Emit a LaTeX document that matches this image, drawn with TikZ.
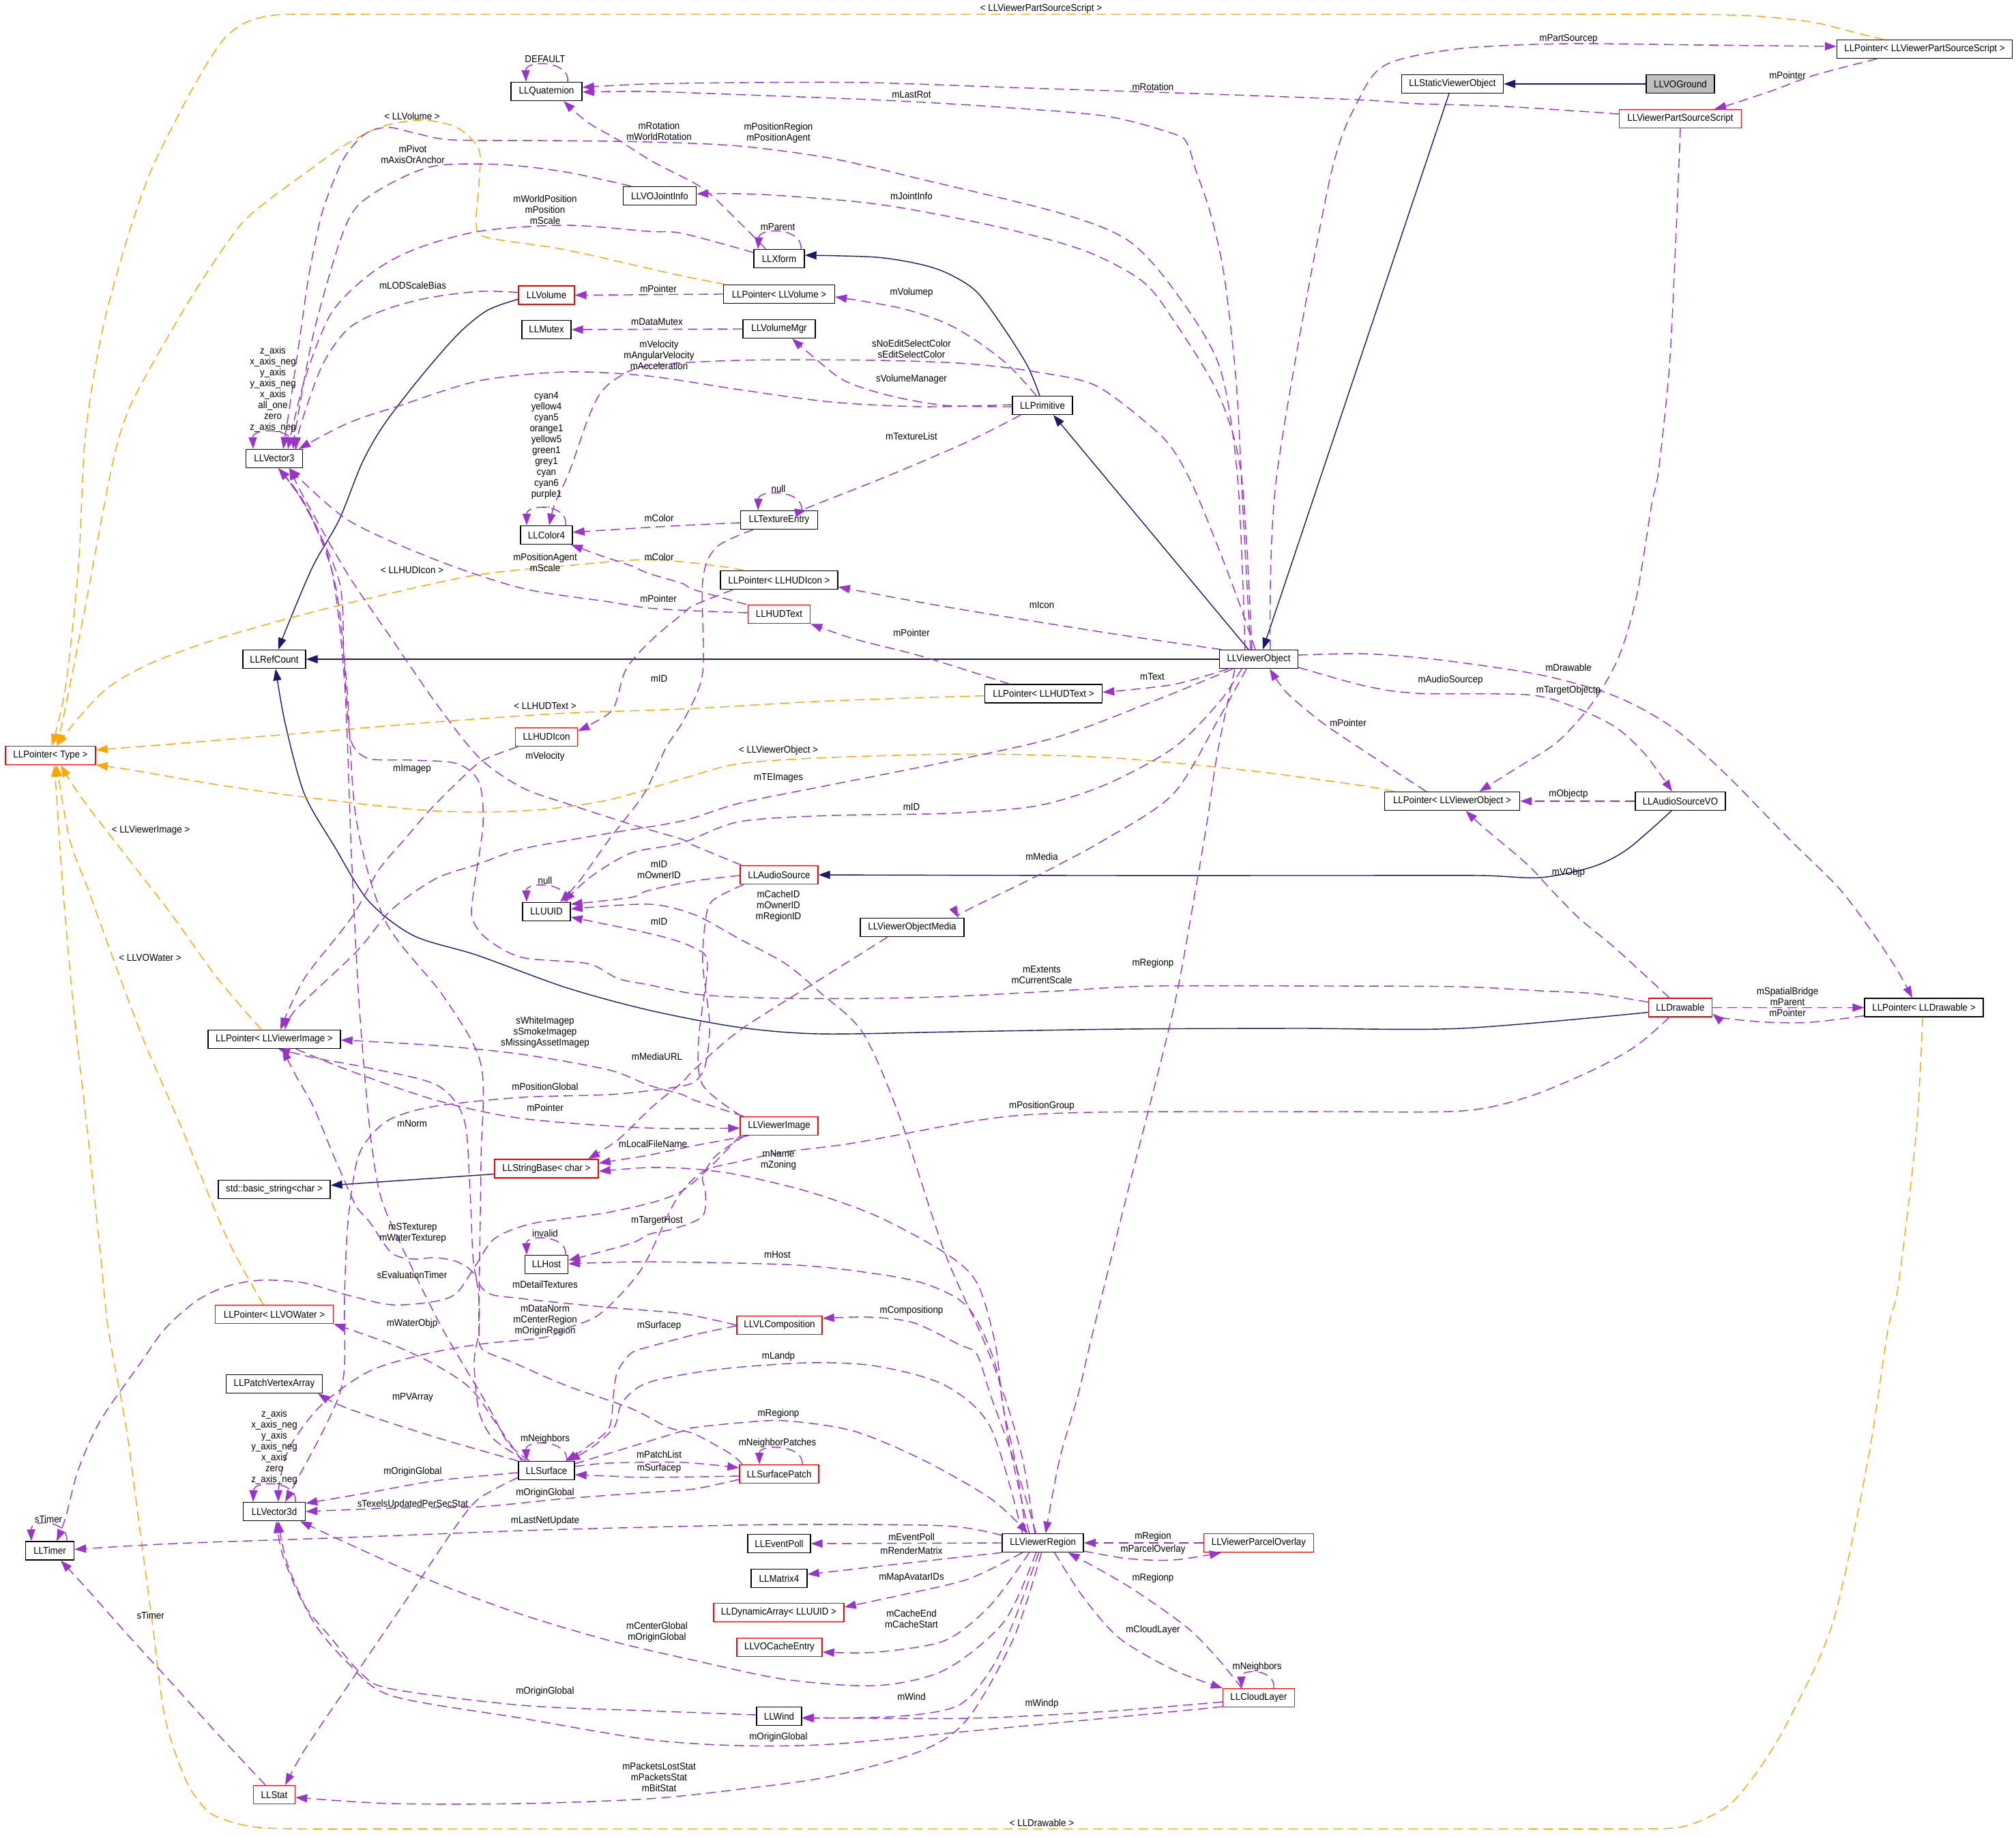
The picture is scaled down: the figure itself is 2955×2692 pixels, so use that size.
\documentclass[tikz,border=0pt]{standalone}
\usepackage{fontspec}
\setmainfont{Liberation Sans}[FakeStretch=0.92]
\usetikzlibrary{arrows.meta}
\definecolor{cpurple}{HTML}{9A32CD}
\definecolor{corange}{HTML}{FFA500}
\definecolor{cnavy}{HTML}{191970}
\definecolor{cgray}{HTML}{BFBFBF}
\newcommand\lblfont{\fontsize{14.5}{16}\selectfont}
\begin{document}
\begin{tikzpicture}[x=1pt,y=-1pt,
 cls/.style={draw=black,line width=1.4pt,minimum height=27pt,inner sep=0pt,font=\lblfont},
 redcls/.style={cls,draw=red},
 edgetext/.style={font=\lblfont,align=center,inner sep=0pt},
 eUse/.style={draw=cpurple,line width=1.4pt,dash pattern=on 14pt off 8pt,-{Triangle[length=17pt,width=12pt]}},
 eTmpl/.style={draw=corange,line width=1.4pt,dash pattern=on 14pt off 8pt,-{Triangle[length=17pt,width=12pt]}},
 eInh/.style={draw=cnavy,line width=1.4pt,-{Triangle[length=17pt,width=12pt]}},
 sm/.style={smooth,tension=0.5}]
\fill[white] (0,0) rectangle (2955,2692);
\useasboundingbox (0,0) rectangle (2955,2692);
% ---------------- nodes
\node[cls,minimum width=104pt] (quat) at (801,134) {LLQuaternion};
\node[cls,minimum width=107pt] (vojoint) at (967,287) {LLVOJointInfo};
\node[cls,minimum width=74pt] (xform) at (1142,379) {LLXform};
\node[redcls,minimum width=82pt] (volume) at (801,432.5) {LLVolume};
\node[cls,minimum width=163pt] (ptrvolume) at (1142,431) {LLPointer< LLVolume >};
\node[cls,minimum width=72pt] (mutex) at (801,483) {LLMutex};
\node[cls,minimum width=106pt] (volmgr) at (1142,482) {LLVolumeMgr};
\node[cls,minimum width=88pt] (prim) at (1528,594) {LLPrimitive};
\node[cls,minimum width=83pt] (vec3) at (402,672) {LLVector3};
\node[cls,minimum width=76pt] (color4) at (801,784) {LLColor4};
\node[cls,minimum width=113pt] (texentry) at (1142,762) {LLTextureEntry};
\node[cls,minimum width=172pt] (ptrhudicon) at (1142,850) {LLPointer< LLHUDIcon >};
\node[redcls,minimum width=91pt] (hudtext) at (1142,900) {LLHUDText};
\node[cls,minimum width=92pt] (refcount) at (402,966) {LLRefCount};
\node[cls,minimum width=115pt] (vobj) at (1845,966) {LLViewerObject};
\node[cls,minimum width=172pt] (ptrhudtext) at (1529.5,1016.5) {LLPointer< LLHUDText >};
\node[redcls,minimum width=91pt] (hudicon) at (801,1080) {LLHUDIcon};
\node[redcls,minimum width=132pt] (ptrtype) at (74,1107) {LLPointer< Type >};
\node[cls,minimum width=198pt] (ptrvobj) at (2128.5,1174) {LLPointer< LLViewerObject >};
\node[cls,minimum width=132pt] (audiovo) at (2463,1174) {LLAudioSourceVO};
\node[redcls,minimum width=114pt] (audiosrc) at (1142,1282) {LLAudioSource};
\node[cls,minimum width=70pt] (uuid) at (801,1336) {LLUUID};
\node[cls,minimum width=152pt] (vomedia) at (1337,1359) {LLViewerObjectMedia};
\node[redcls,minimum width=93pt] (drawable) at (2463,1476.5) {LLDrawable};
\node[cls,minimum width=174pt] (ptrdrawable) at (2820,1476.5) {LLPointer< LLDrawable >};
\node[cls,minimum width=194pt] (ptrvimage) at (402,1523) {LLPointer< LLViewerImage >};
\node[redcls,minimum width=114pt] (vimage) at (1142,1650) {LLViewerImage};
\node[redcls,minimum width=152pt] (strbase) at (801,1712.5) {LLStringBase< char >};
\node[cls,minimum width=164pt] (stdstr) at (402,1743) {std::basic\_string<char >};
\node[cls,minimum width=63pt] (host) at (801,1853) {LLHost};
\node[redcls,minimum width=173pt] (ptrwater) at (402,1926) {LLPointer< LLVOWater >};
\node[redcls,minimum width=125pt] (vlcomp) at (1142.5,1942) {LLVLComposition};
\node[cls,minimum width=141pt] (pva) at (402,2028) {LLPatchVertexArray};
\node[cls,minimum width=82pt] (surface) at (801,2155) {LLSurface};
\node[redcls,minimum width=116pt] (spatch) at (1142,2160) {LLSurfacePatch};
\node[cls,minimum width=91pt] (vec3d) at (402,2215) {LLVector3d};
\node[cls,minimum width=71pt] (timer) at (73,2272.5) {LLTimer};
\node[cls,minimum width=119pt] (vregion) at (1528.6,2261) {LLViewerRegion};
\node[redcls,minimum width=161pt] (parcel) at (1845,2261) {LLViewerParcelOverlay};
\node[cls,minimum width=92pt] (eventpoll) at (1142,2262) {LLEventPoll};
\node[cls,minimum width=82pt] (matrix4) at (1142,2313) {LLMatrix4};
\node[redcls,minimum width=191pt] (dynarr) at (1141.5,2363) {LLDynamicArray< LLUUID >};
\node[redcls,minimum width=125pt] (cache) at (1142.5,2414) {LLVOCacheEntry};
\node[cls,minimum width=66pt] (wind) at (1142,2515) {LLWind};
\node[redcls,minimum width=105pt] (cloud) at (1845,2488) {LLCloudLayer};
\node[redcls,minimum width=61pt] (stat) at (402,2630) {LLStat};
\node[cls,minimum width=149pt] (staticvo) at (2129,123) {LLStaticViewerObject};
\node[cls,minimum width=100pt,fill=cgray] (voground) at (2463,123) {LLVOGround};
\node[redcls,minimum width=179pt] (vpss) at (2463,174) {LLViewerPartSourceScript};
\node[cls,minimum width=257pt] (ptrvpss) at (2821,72) {LLPointer< LLViewerPartSourceScript >};
% ---------------- inheritance
\draw[eInh] (voground.west) -- (staticvo.east);
\draw[eInh] ([xshift=-5pt]staticvo.south) -- ([xshift=6pt]vobj.north);
\draw[eInh] ([xshift=-15pt]vobj.north) -- ([xshift=16pt]prim.south);
\draw[eInh] plot[sm] coordinates {([xshift=-4pt]prim.north) (1506,536) (1472,482) (1432,428) (1392,402) (1352,388) (1285,377) ([yshift=5pt]xform.east)};
\draw[eInh] (vobj.west) -- (refcount.east);
\draw[eInh] plot[sm] coordinates {([yshift=-6pt]volume.west) (714,455) (670,491) (612,558) (561,625) (530,680) (497,762) (459,829) (421,918) ([xshift=6pt]refcount.north)};
\draw[eInh] plot[sm] coordinates {([yshift=-7pt]drawable.west) (2142,1507) (1900,1507) (1650,1508) (1400,1512) (1200,1515) (1080,1505) (950,1480) (829,1447) (700,1400) (606,1371) (540,1320) (490,1240) (446,1163) (418,1060) ([xshift=2pt]refcount.south)};
\draw[eInh] plot[sm] coordinates {([xshift=-13pt]audiovo.south) (2386,1244) (2335,1270) (2258,1286) (2168,1283) (1950,1283) (1600,1283) (audiosrc.east)};
\draw[eInh] ([yshift=-8pt]strbase.west) -- ([yshift=6pt]stdstr.east);
% ---------------- templates
\draw[eTmpl] plot[sm] coordinates {([xshift=-60pt]ptrvpss.north) (2720,48) (2660,33) (2580,24) (2480,21) (2250,21) (2000,21) (1700,21) (1400,21) (1100,21) (800,21) (600,21) (470,21) (402,22) (360,33) (330,55) (306,89) (285,125) (268,156) (223,246) (191,335) (159,446) (140,536) (124,650) (115,829) (96,1007) ([xshift=2pt]ptrtype.north)};
\draw[eTmpl] plot[sm] coordinates {([xshift=-78pt]ptrvolume.north) (989,402) (829,366) (714,348) (698,330) (702,268) (702,219) (670,187) (619,176) (561,185) (510,210) (459,245) (370,312) (332,357) (274,446) (198,580) (172,650) (153,739) (128,873) (102,1007) ([xshift=10pt]ptrtype.north)};
\draw[eTmpl] plot[sm] coordinates {([xshift=-52pt]ptrhudicon.north) (1050,829) (950,820) (829,829) (702,842) (574,869) (446,900) (319,936) (223,971) (159,1007) (115,1052) ([xshift=9pt]ptrtype.north)};
\draw[eTmpl] plot[sm] coordinates {([yshift=-3pt]ptrhudtext.west) (1218,1027) (1000,1039) (829,1045) (638,1058) (446,1074) (255,1090) ([yshift=8pt]ptrtype.east)};
\draw[eTmpl] plot[sm] coordinates {([xshift=-85pt]ptrvobj.north) (1988,1150) (1820,1128) (1620,1110) (1419,1105) (1218,1110) (1084,1119) (1000,1141) (893,1172) (797,1186) (702,1190) (606,1186) (446,1168) (319,1150) (191,1128) ([yshift=-14pt]ptrtype.east)};
\draw[eTmpl] plot[sm] coordinates {([xshift=-2pt]ptrdrawable.south) (2809,1657) (2783,1880) (2767,1950) (2738,2139) (2687,2376) (2623,2518) (2580,2590) (2540,2640) (2500,2665) (2460,2678) (2400,2680) (2200,2680) (1900,2680) (1600,2680) (1300,2680) (1000,2680) (700,2680) (450,2680) (380,2678) (340,2670) (306,2655) (274,2612) (242,2518) (223,2376) (204,2234) (185,2092) (159,1950) (147,1836) (128,1657) (108,1479) (92,1300) ([xshift=6pt]ptrtype.south)};
\draw[eTmpl] plot[sm] coordinates {([xshift=-19pt]ptrvimage.north) (319,1434) (255,1345) (205,1280) (159,1221) (115,1163) ([xshift=15pt]ptrtype.south)};
\draw[eTmpl] plot[sm] coordinates {([xshift=-16pt]ptrwater.north) (332,1813) (268,1657) (210,1523) (160,1389) (128,1300) (102,1230) ([xshift=9pt]ptrtype.south)};
% ---------------- usage edges
\draw[eUse] plot[sm] coordinates {([xshift=17pt]vobj.north) (1871,700) (1948,268) (1991,147) (2033,94) (2142,71) (2300,64) (2500,66) ([yshift=4pt]ptrvpss.west)};
\draw[eUse] plot[sm] coordinates {([xshift=-70pt]ptrvpss.south) (2660,110) (2600,132) (2540,152) ([xshift=50pt]vpss.north)};
\draw[eUse] ([xshift=31pt]quat.north) .. controls (836,88) and (770,88) .. ([xshift=-30pt]quat.north);
\draw[eUse] plot[sm] coordinates {([yshift=7pt]vpss.west) (2206,156) (2078,152) (1988,146) (1750,137) (1506,129) (1271,121) (1100,121) (950,123) ([yshift=6pt]quat.east)};
\draw[eUse] plot[sm] coordinates {([xshift=-12pt]vobj.north) (1822,750) (1812,560) (1794,402) (1774,312) (1753,250) (1740,210) (1720,196) (1620,170) (1452,156) (1298,147) (1120,140) (950,134) ([yshift=-1pt]quat.east)};
\draw[eUse] plot[sm] coordinates {([xshift=-20pt]xform.north) (1111,353) (1047,290) (1017,268) (957,237) (906,205) (861,179) ([xshift=25pt]quat.south)};
\draw[eUse] plot[sm] coordinates {([xshift=-20pt]vobj.north) (1814,700) (1787,536) (1720,424) (1653,352) (1553,312) (1352,263) (1218,232) (1084,214) (950,208) (800,206) (663,205) (612,196) (574,187) (548,190) (529,201) (510,223) (497,246) (472,312) (453,402) (440,491) (427,580) ([xshift=13pt]vec3.north)};
\draw[eUse] plot[sm] coordinates {([xshift=-42pt]vojoint.north) (829,252) (733,241) (638,243) (574,268) (523,303) (497,357) (459,491) (434,625) ([xshift=28pt]vec3.north)};
\draw[eUse] plot[sm] coordinates {([yshift=9pt]xform.west) (1000,342) (950,339) (829,330) (702,339) (606,366) (542,402) (485,460) (446,558) ([xshift=20pt]vec3.north)};
\draw[eUse] plot[sm] coordinates {([yshift=4pt]volume.west) (702,427) (625,437) (561,455) (510,482) (472,536) (440,625) ([xshift=32pt]vec3.north)};
\draw[eUse] ([xshift=31pt]vec3.north) .. controls (436,626) and (370,626) .. ([xshift=-31pt]vec3.north);
\draw[eUse] plot[sm] coordinates {([yshift=1pt]prim.west) (1352,596) (1218,589) (1084,571) (950,551) (829,545) (702,558) (587,594) (510,620) ([xshift=36pt]vec3.north)};
\draw[eUse] plot[sm] coordinates {([xshift=-5pt]vobj.north) (1815,880) (1787,806) (1750,715) (1720,660) (1687,625) (1606,565) (1519,545) (1419,533) (1285,528) (1084,528) (950,536) (906,553) (880,576) (861,616) (835,690) (813,739) ([xshift=4pt]color4.north)};
\draw[eUse] plot[sm] coordinates {([yshift=-2pt]prim.west) (1385,594) (1305,580) (1238,558) (1191,522) ([xshift=19pt]volmgr.south)};
\draw[eUse] plot[sm] coordinates {([xshift=-9pt]prim.north) (1479,536) (1432,500) (1385,473) (1318,451) ([yshift=-4pt]ptrvolume.east)};
\draw[eUse] (ptrvolume.west) -- (volume.east);
\draw[eUse] (volmgr.west) -- (mutex.east);
\draw[eUse] plot[sm] coordinates {([xshift=-10pt]vobj.north) (1820,700) (1787,580) (1720,469) (1673,411) (1586,366) (1452,330) (1285,299) (1117,285) ([yshift=3pt]vojoint.east)};
\draw[eUse] ([xshift=32pt]xform.north) .. controls (1177,333) and (1113,333) .. ([xshift=-31pt]xform.north);
\draw[eUse] plot[sm] coordinates {([xshift=-32pt]prim.south) (1419,647) (1300,698) (1184,744) ([xshift=40pt]texentry.north)};
\draw[eUse] ([xshift=33pt]texentry.north) .. controls (1178,717) and (1112,717) .. ([xshift=-31pt]texentry.north);
\draw[eUse] plot[sm] coordinates {([yshift=-4pt]texentry.west) (1000,770) (900,776) ([yshift=4pt]color4.east)};
\draw[eUse] ([xshift=28pt]color4.north) .. controls (834,738) and (772,738) .. ([xshift=-29pt]color4.north);
\draw[eUse] plot[sm] coordinates {([xshift=-48pt]hudtext.north) (1017,864) (1000,855) (950,840) (925,829) (880,814) ([xshift=36pt]color4.south)};
\draw[eUse] plot[sm] coordinates {([yshift=2pt]hudtext.west) (1017,895) (950,891) (893,882) (765,862) (638,820) (510,762) ([xshift=22pt]vec3.south)};
\draw[eUse] plot[sm] coordinates {([xshift=-68pt]ptrhudicon.south) (1017,887) (1000,900) (957,936) (918,980) (899,1038) (867,1061) ([yshift=9pt]hudicon.east)};
\draw[eUse] plot[sm] coordinates {([xshift=-55pt]vobj.north) (1620,927) (1385,889) ([yshift=-10pt]ptrhudicon.east)};
\draw[eUse] plot[sm] coordinates {([xshift=-50pt]ptrhudtext.north) (1352,962) (1251,936) (hudtext.south east)};
\draw[eUse] plot[sm] coordinates {([xshift=-45pt]vobj.south) (1720,1003) ([yshift=2pt]ptrhudtext.east)};
\draw[eUse] plot[sm] coordinates {([xshift=-38pt]texentry.south) (1050,802) (1030,851) (1030,985) (1004,1052) (976,1096) (944,1163) (893,1230) (850,1290) ([xshift=20pt]uuid.north)};
\draw[eUse] ([xshift=30pt]uuid.north) .. controls (834,1292) and (771,1292) .. ([xshift=-29pt]uuid.north);
\draw[eUse] plot[sm] coordinates {([yshift=-1pt]audiosrc.west) (1017,1291) (950,1305) (925,1315) ([yshift=11pt]uuid.east)};
\draw[eUse] plot[sm] coordinates {([xshift=-25pt]vobj.south) (1787,1029) (1720,1096) (1620,1150) (1519,1181) (1385,1192) (1218,1195) (1084,1204) (1000,1235) (925,1250) (867,1284) ([xshift=25pt]uuid.north)};
\draw[eUse] plot[sm] coordinates {([xshift=-55pt]vimage.north) (1030,1590) (1024,1523) (1037,1412) (1017,1389) (980,1375) (925,1362) ([yshift=-8pt]uuid.east)};
\draw[eUse] plot[sm] coordinates {([xshift=-12pt]vregion.north) (1499,2139) (1472,2045) (1440,1960) (1385,1836) (1318,1635) (1265,1514) (1204,1456) (1151,1412) (1084,1376) (1017,1340) (950,1325) ([yshift=4pt]uuid.east)};
\draw[eUse] plot[sm] coordinates {([xshift=-35pt]vobj.south) (1785,1100) (1770,1200) (1753,1300) (1720,1479) (1653,1746) (1600,1960) (1580,2045) (1553,2139) ([xshift=4pt]vregion.north)};
\draw[eUse] plot[sm] coordinates {([xshift=-18pt]vobj.south) (1787,1052) (1720,1163) (1620,1230) (1519,1284) (1419,1333) ([xshift=68pt]vomedia.north)};
\draw[eUse] plot[sm] coordinates {([xshift=-38pt]vobj.south) (1687,1029) (1553,1079) (1419,1110) (1218,1150) (1084,1177) (1000,1203) (893,1221) (765,1244) (702,1266) (638,1288) (574,1333) (523,1394) (434,1479) ([xshift=16pt]ptrvimage.north)};
\draw[eUse] plot[sm] coordinates {([xshift=-42pt]hudicon.south) (708,1114) (676,1141) (631,1186) (593,1230) (555,1275) (515,1345) (446,1434) ([xshift=9pt]ptrvimage.north)};
\draw[eUse] plot[sm] coordinates {([yshift=8pt]drawable.west) (2335,1456) (2258,1452) (2142,1446) (1950,1445) (1687,1445) (1553,1452) (1400,1460) (1285,1463) (1151,1463) (1030,1458) (950,1443) (906,1434) (861,1412) (765,1403) (714,1376) (692,1345) (695,1300) (708,1208) (702,1146) (670,1119) (606,1114) (542,1112) (517,1092) (510,1052) (504,962) (497,851) (446,739) ([xshift=6pt]vec3.south)};
\draw[eUse] plot[sm] coordinates {([xshift=-55pt]audiosrc.north) (1017,1239) (1000,1230) (925,1208) (829,1177) (765,1154) (702,1110) (638,1029) (574,936) (510,842) (446,730) ([xshift=22pt]vec3.south)};
\draw[eUse] plot[sm] coordinates {([xshift=-38pt]ptrvobj.north) (2014,1110) (1941,1061) (1887,1016) ([xshift=16pt]vobj.south)};
\draw[eUse] plot[sm] coordinates {([yshift=-12pt]vobj.east) (2000,1005) (2078,1016) (2238,1018) (2302,1034) (2367,1065) (2411,1105) ([xshift=-12pt]audiovo.north)};
\draw[eUse] plot[sm] coordinates {(vpss.south) (2456,357) (2447,536) (2431,690) (2421,739) (2399,873) (2373,962) (2335,1029) (2283,1087) (2219,1128) ([xshift=40pt]ptrvobj.north)};
\draw[eUse] (audiovo.west) -- (ptrvobj.east);
\draw[eUse] plot[sm] coordinates {([yshift=6pt]vobj.east) (2000,958) (2110,967) (2258,989) (2367,1020) (2450,1065) (2527,1132) (2623,1230) (2694,1300) (2740,1360) (2780,1420) ([xshift=-17pt]ptrdrawable.north)};
\draw[eUse] plot[sm] coordinates {([xshift=-16pt]drawable.north) (2367,1389) (2315,1346) (2270,1300) (2238,1266) (2174,1212) ([xshift=20pt]ptrvobj.south)};
\draw[eUse] (drawable.east) -- (ptrdrawable.west);
\draw[eUse] plot[sm] coordinates {([yshift=-12pt]ptrdrawable.west) (2655,1498) (2591,1498) (2527,1492) ([yshift=-9pt]drawable.east)};
\draw[eUse] plot[sm] coordinates {([xshift=-52pt]vimage.north) (1017,1612) (1000,1604) (950,1590) (893,1568) (765,1545) (638,1532) ([yshift=-1pt]ptrvimage.east)};
\draw[eUse] plot[sm] coordinates {([xshift=32pt]ptrvimage.south) (510,1568) (638,1612) (765,1639) (950,1653) ([yshift=-3pt]vimage.west)};
\draw[eUse] plot[sm] coordinates {([xshift=-36pt]vomedia.south) (1204,1434) (1084,1510) (1017,1568) (1000,1586) (957,1621) (906,1670) ([xshift=61pt]strbase.north)};
\draw[eUse] plot[sm] coordinates {([xshift=-52pt]audiosrc.south) (1044,1320) (1034,1350) (1030,1412) (1040,1500) (1034,1560) (1017,1586) (977,1595) (893,1604) (765,1608) (638,1621) (574,1639) (542,1666) (523,1702) (510,1791) (505,1900) (505,2000) (497,2045) (472,2100) (440,2160) ([xshift=16pt]vec3d.north)};
\draw[eUse] plot[sm] coordinates {([xshift=-45pt]vimage.south) (1017,1679) (950,1693) (925,1697) ([yshift=8pt]strbase.east)};
\draw[eUse] plot[sm] coordinates {([xshift=-25pt]vregion.north) (1490,2150) (1470,2060) (1459,1970) (1432,1880) (1385,1836) (1285,1782) (1184,1746) (1084,1722) (1017,1713) (950,1711) ([yshift=-4pt]strbase.east)};
\draw[eUse] plot[sm] coordinates {([xshift=-16pt]drawable.south) (2399,1532) (2335,1568) (2238,1608) (2142,1628) (1950,1629) (1750,1629) (1600,1630) (1500,1634) (1419,1644) (1251,1675) (1151,1688) (1084,1702) (1030,1717) (990,1760) (940,1860) (880,1925) (829,1947) (797,1960) (702,1970) (620,1985) (540,2010) (470,2060) (425,2120) (410,2170) ([xshift=6pt]vec3d.north)};
\draw[eUse] plot[sm] coordinates {([xshift=-50pt]vimage.south) (1050,1693) (1030,1724) (1034,1746) (1030,1782) (990,1800) (950,1809) (925,1822) ([yshift=6pt]host.east)};
\draw[eUse] plot[sm] coordinates {([xshift=-20pt]vregion.north) (1480,2120) (1459,2000) (1419,1916) (1352,1880) (1251,1862) (1151,1853) (950,1849) ([yshift=1pt]host.east)};
\draw[eUse] ([xshift=28pt]host.north) .. controls (832,1809) and (771,1809) .. ([xshift=-29pt]host.north);
\draw[eUse] plot[sm] coordinates {([xshift=-10pt]vregion.north) (1486,2139) (1452,2045) (1432,1985) (1405,1970) (1338,1938) (1271,1930) ([yshift=10pt]vlcomp.east)};
\draw[eUse] plot[sm] coordinates {(vlcomp.west) (1000,1925) (893,1916) (765,1903) (714,1894) (695,1858) (689,1746) (680,1640) (640,1590) (540,1565) (460,1550) ([xshift=6pt]ptrvimage.south)};
\draw[eUse] plot[sm] coordinates {([xshift=-57pt]vimage.south) (1000,1745) (900,1775) (780,1793) (725,1815) (700,1850) (670,1894) (638,1907) (574,1912) (510,1898) (446,1880) (383,1876) (332,1885) (287,1907) (242,1947) (204,2000) (147,2082) (115,2153) (96,2224) ([xshift=10pt]timer.north)};
\draw[eUse] plot[sm] coordinates {([xshift=-36pt]surface.north) (730,2090) (690,2035) (638,2000) (574,1970) (ptrwater.south east)};
\draw[eUse] plot[sm] coordinates {([xshift=-54pt]spatch.north) (1070,2130) (1017,2101) (980,2092) (925,2064) (829,2030) (753,1997) (708,1978) (702,1950) (703,1850) (705,1700) (705,1560) (650,1460) (565,1350) (522,1200) (508,1000) (490,850) (450,745) ([xshift=6pt]vec3.south)};
\draw[eUse] plot[sm] coordinates {([xshift=-25pt]surface.north) (745,2115) (715,2060) (650,1950) (600,1850) (560,1760) (545,1680) (535,1580) (525,1450) (515,1250) (505,1000) (485,830) (445,735) ([xshift=6pt]vec3.south)};
\draw[eUse] plot[sm] coordinates {([xshift=-30pt]surface.north) (753,2130) (721,2106) (702,2068) (695,1997) (702,1950) (702,1903) (695,1867) (670,1849) (638,1843) (606,1845) (574,1836) (542,1791) (523,1769) (504,1728) (485,1684) (459,1621) (434,1577) ([xshift=12pt]ptrvimage.south)};
\draw[eUse] plot[sm] coordinates {(surface.north west) (638,2106) (510,2064) ([xshift=64pt]pva.south)};
\draw[eUse] ([xshift=30pt]surface.north) .. controls (833,2109) and (770,2109) .. ([xshift=-29pt]surface.north);
\draw[eUse] plot[sm] coordinates {([yshift=-3pt]surface.west) (638,2170) (542,2187) ([yshift=12pt]vec3d.east)};
\draw[eUse] plot[sm] coordinates {([yshift=-10pt]surface.west) (702,2196) (670,2234) (638,2281) (606,2329) (574,2376) (510,2470) (446,2565) ([xshift=16pt]stat.north)};
\draw[eUse] plot[sm] coordinates {([yshift=-8pt]spatch.west) (1017,2182) (950,2187) (829,2196) (702,2208) (574,2210) (vec3d.east)};
\draw[eUse] plot[sm] coordinates {([yshift=6pt]surface.east) (893,2144) (1000,2143) ([yshift=9pt]spatch.west)};
\draw[eUse] plot[sm] coordinates {([yshift=-3pt]spatch.west) (950,2165) (893,2163) ([yshift=-6pt]surface.east)};
\draw[eUse] ([xshift=34pt]spatch.north) .. controls (1178,2116) and (1113,2116) .. ([xshift=-29pt]spatch.north);
\draw[eUse] plot[sm] coordinates {([yshift=-1pt]vlcomp.west) (1017,1956) (950,1974) (925,1983) (905,2010) (899,2045) (893,2092) (861,2120) ([xshift=28pt]surface.north)};
\draw[eUse] plot[sm] coordinates {([xshift=-30pt]vregion.north) (1452,2092) (1385,2030) (1285,2002) (1184,1997) (1050,2007) (950,2026) (912,2055) (900,2092) (866,2122) ([xshift=32pt]surface.north)};
\draw[eUse] plot[sm] coordinates {([yshift=10pt]surface.east) (1000,2097) (1017,2092) (1084,2085) (1151,2082) (1251,2097) (1352,2139) (1452,2196) ([xshift=-22pt]vregion.north)};
\draw[eUse] plot[sm] coordinates {([yshift=11pt]vregion.west) (1385,2236) (1151,2234) (950,2238) (765,2243) (510,2253) (255,2262) ([yshift=2pt]timer.east)};
\draw[eUse] ([xshift=25pt]timer.north) .. controls (100,2226) and (45,2226) .. ([xshift=-27pt]timer.north);
\draw[eUse] plot[sm] coordinates {([xshift=-13pt]stat.north) (319,2541) (255,2470) (191,2400) (128,2329) ([xshift=16pt]timer.south)};
\draw[eUse] (vregion.west) -- (eventpoll.east);
\draw[eUse] plot[sm] coordinates {(vregion.south west) (1352,2288) ([yshift=6pt]matrix4.east)};
\draw[eUse] plot[sm] coordinates {([xshift=-30pt]vregion.south) (1419,2314) (1318,2338) ([yshift=8pt]dynarr.east)};
\draw[eUse] plot[sm] coordinates {([xshift=-20pt]vregion.south) (1452,2352) (1385,2404) (1285,2421) ([yshift=-7pt]cache.east)};
\draw[eUse] plot[sm] coordinates {([xshift=-10pt]vregion.south) (1472,2376) (1385,2447) (1285,2470) (1151,2461) (1017,2433) (893,2404) (765,2366) (638,2319) (510,2262) ([xshift=38pt]vec3d.south)};
\draw[eUse] plot[sm] coordinates {([xshift=-6pt]vregion.south) (1486,2376) (1452,2447) (1405,2499) (1318,2515) ([yshift=-3pt]wind.east)};
\draw[eUse] plot[sm] coordinates {([yshift=-6pt]cloud.west) (1620,2508) (1419,2518) ([yshift=-2pt]wind.east)};
\draw[eUse] plot[sm] coordinates {([yshift=2pt]wind.west) (950,2507) (765,2499) (574,2475) (529,2452) (485,2400) (446,2352) (415,2281) ([xshift=3pt]vec3d.south)};
\draw[eUse] plot[sm] coordinates {([yshift=-13pt]cloud.west) (1620,2518) (1419,2537) (1218,2556) (1084,2558) (950,2549) (765,2518) (574,2485) (510,2437) (459,2376) (421,2291) ([xshift=6pt]vec3d.south)};
\draw[eUse] plot[sm] coordinates {([xshift=-2pt]vregion.south) (1486,2400) (1419,2518) (1352,2565) (1218,2603) (1084,2622) (950,2636) (765,2643) (574,2643) ([yshift=-4pt]stat.east)};
\draw[eUse] (parcel.west) -- (vregion.east);
\draw[eUse] plot[sm] coordinates {([yshift=-12pt]vregion.east) (1653,2284) (1720,2286) ([xshift=-55pt]parcel.south)};
\draw[eUse] plot[sm] coordinates {([xshift=-25pt]cloud.north) (1787,2433) (1740,2385) (1653,2324) ([xshift=37pt]vregion.south)};
\draw[eUse] plot[sm] coordinates {([xshift=17pt]vregion.south) (1586,2338) (1640,2400) (1720,2447) (cloud.north west)};
\draw[eUse] ([xshift=22pt]cloud.north) .. controls (1870,2445) and (1819,2445) .. ([xshift=-25pt]cloud.north);
\draw[eUse] ([xshift=31pt]vec3d.north) .. controls (437,2169) and (372,2169) .. ([xshift=-31pt]vec3d.north);
% ---------------- labels
\node[edgetext] (t1) at (1526,13) {< LLViewerPartSourceScript >};
\node[edgetext] (t2) at (2299,57) {mPartSourcep};
\node[edgetext] (t3) at (799,87) {DEFAULT};
\node[edgetext] (t4) at (1690,127) {mRotation};
\node[edgetext] (t5) at (1336,139) {mLastRot};
\node[edgetext] (t6) at (966,192) {mRotation\\mWorldRotation};
\node[edgetext] (t7) at (1141,195) {mPositionRegion\\mPositionAgent};
\node[edgetext] (t8) at (604,170) {< LLVolume >};
\node[edgetext] (t9) at (605,226.5) {mPivot\\mAxisOrAnchor};
\node[edgetext] (t10) at (799,307) {mWorldPosition\\mPosition\\mScale};
\node[edgetext] (t11) at (1336,287.5) {mJointInfo};
\node[edgetext] (t12) at (1140,333) {mParent};
\node[edgetext] (t13) at (605,418) {mLODScaleBias};
\node[edgetext] (t14) at (965,423) {mPointer};
\node[edgetext] (t15) at (1336,428.5) {mVolumep};
\node[edgetext] (t16) at (963,472) {mDataMutex};
\node[edgetext] (t17) at (966,520) {mVelocity\\mAngularVelocity\\mAcceleration};
\node[edgetext] (t18) at (1336,511) {sNoEditSelectColor\\sEditSelectColor};
\node[edgetext] (t19) at (1336,556) {sVolumeManager};
\node[edgetext] (t20) at (400,571) {z\_axis\\x\_axis\_neg\\y\_axis\\y\_axis\_neg\\x\_axis\\all\_one\\zero\\z\_axis\_neg};
\node[edgetext] (t21) at (1336,639) {mTextureList};
\node[edgetext] (t22) at (1141,716) {null};
\node[edgetext] (t23) at (966,759) {mColor};
\node[edgetext] (t24) at (801,660) {cyan4\\yellow4\\cyan5\\orange1\\yellow5\\green1\\grey1\\cyan\\cyan6\\purple1\\...};
\node[edgetext] (t25) at (966,816.5) {mColor};
\node[edgetext] (t26) at (799,824.5) {mPositionAgent\\mScale};
\node[edgetext] (t27) at (604,836) {< LLHUDIcon >};
\node[edgetext] (t28) at (965,877) {mPointer};
\node[edgetext] (t29) at (1527,886.6) {mIcon};
\node[edgetext] (t30) at (1336,927.7) {mPointer};
\node[edgetext] (t31) at (1689,991.5) {mText};
\node[edgetext] (t32) at (966,995) {mID};
\node[edgetext] (t33) at (799,1035) {< LLHUDText >};
\node[edgetext] (t34) at (1976,1059) {mPointer};
\node[edgetext] (t35) at (2126,996.4) {mAudioSourcep};
\node[edgetext] (t36) at (2299,1011.6) {mTargetObjectp};
\node[edgetext] (t37) at (2299,978.5) {mDrawable};
\node[edgetext] (t38) at (1141,1099.5) {< LLViewerObject >};
\node[edgetext] (t39) at (799,1108.5) {mVelocity};
\node[edgetext] (t40) at (604,1127) {mImagep};
\node[edgetext] (t41) at (1141,1139.7) {mTEImages};
\node[edgetext] (t42) at (2299,1164) {mObjectp};
\node[edgetext] (t43) at (1336,1182.6) {mID};
\node[edgetext] (t44) at (221,1217) {< LLViewerImage >};
\node[edgetext] (t45) at (1527,1255.8) {mMedia};
\node[edgetext] (t46) at (966,1275) {mID\\mOwnerID};
\node[edgetext] (t47) at (2299,1278.5) {mVObjp};
\node[edgetext] (t48) at (799,1290.6) {null};
\node[edgetext] (t49) at (1141,1327.6) {mCacheID\\mOwnerID\\mRegionID};
\node[edgetext] (t50) at (966,1350) {mID};
\node[edgetext] (t51) at (220,1403.6) {< LLVOWater >};
\node[edgetext] (t52) at (1690,1411.6) {mRegionp};
\node[edgetext] (t53) at (1527,1428.5) {mExtents\\mCurrentScale};
\node[edgetext] (t54) at (2620,1468) {mSpatialBridge\\mParent\\mPointer};
\node[edgetext] (t55) at (799,1512.5) {sWhiteImagep\\sSmokeImagep\\sMissingAssetImagep};
\node[edgetext] (t56) at (963,1548.6) {mMediaURL};
\node[edgetext] (t57) at (799,1592) {mPositionGlobal};
\node[edgetext] (t58) at (1527,1620.5) {mPositionGroup};
\node[edgetext] (t59) at (799,1623) {mPointer};
\node[edgetext] (t60) at (604,1647) {mNorm};
\node[edgetext] (t61) at (957,1676) {mLocalFileName};
\node[edgetext] (t62) at (1141,1699.5) {mName\\mZoning};
\node[edgetext] (t63) at (963,1789) {mTargetHost};
\node[edgetext] (t64) at (605,1806.6) {mSTexturep\\mWaterTexturep};
\node[edgetext] (t65) at (799,1807.6) {invalid};
\node[edgetext] (t66) at (1139.5,1839) {mHost};
\node[edgetext] (t67) at (604,1868) {sEvaluationTimer};
\node[edgetext] (t68) at (799,1882.5) {mDetailTextures};
\node[edgetext] (t69) at (1336,1920.5) {mCompositionp};
\node[edgetext] (t70) at (799,1934.8) {mDataNorm\\mCenterRegion\\mOriginRegion};
\node[edgetext] (t71) at (604,1940) {mWaterObjp};
\node[edgetext] (t72) at (966,1943) {mSurfacep};
\node[edgetext] (t73) at (1141,1988) {mLandp};
\node[edgetext] (t74) at (605,2048.4) {mPVArray};
\node[edgetext] (t75) at (1141,2071.6) {mRegionp};
\node[edgetext] (t76) at (799,2108.5) {mNeighbors};
\node[edgetext] (t77) at (1139.5,2114.7) {mNeighborPatches};
\node[edgetext] (t78) at (966,2131) {mPatchList};
\node[edgetext] (t79) at (966,2152) {mSurfacep};
\node[edgetext] (t80) at (605,2156.8) {mOriginGlobal};
\node[edgetext] (t81) at (799,2187.5) {mOriginGlobal};
\node[edgetext] (t82) at (605,2204.6) {sTexelsUpdatedPerSecStat};
\node[edgetext] (t83) at (402,2121) {z\_axis\\x\_axis\_neg\\y\_axis\\y\_axis\_neg\\x\_axis\\zero\\z\_axis\_neg};
\node[edgetext] (t84) at (71,2226) {sTimer};
\node[edgetext] (t85) at (799,2228.7) {mLastNetUpdate};
\node[edgetext] (t86) at (1336,2252) {mEventPoll};
\node[edgetext] (t87) at (1690,2252) {mRegion};
\node[edgetext] (t88) at (1336,2272.7) {mRenderMatrix};
\node[edgetext] (t89) at (1690,2271) {mParcelOverlay};
\node[edgetext] (t90) at (1336,2311.5) {mMapAvatarIDs};
\node[edgetext] (t91) at (1690,2313) {mRegionp};
\node[edgetext] (t92) at (220.7,2367.4) {sTimer};
\node[edgetext] (t93) at (1336,2372) {mCacheEnd\\mCacheStart};
\node[edgetext] (t94) at (963,2391.5) {mCenterGlobal\\mOriginGlobal};
\node[edgetext] (t95) at (1690,2388.7) {mCloudLayer};
\node[edgetext] (t96) at (1842.6,2442.6) {mNeighbors};
\node[edgetext] (t97) at (799,2478.6) {mOriginGlobal};
\node[edgetext] (t98) at (1336,2486) {mWind};
\node[edgetext] (t99) at (1527,2496.6) {mWindp};
\node[edgetext] (t100) at (1141,2546) {mOriginGlobal};
\node[edgetext] (t101) at (966,2604.6) {mPacketsLostStat\\mPacketsStat\\mBitStat};
\node[edgetext] (t102) at (1527,2671.6) {< LLDrawable >};
\node[edgetext] (t103) at (2620,110.7) {mPointer};
\end{tikzpicture}
\end{document}
